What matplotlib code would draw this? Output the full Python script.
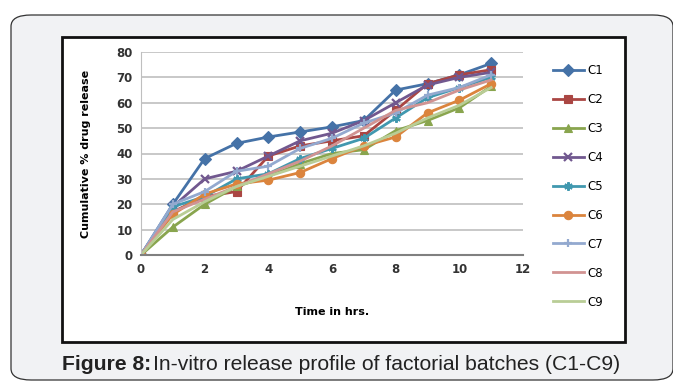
import matplotlib.pyplot as plt
from matplotlib.patches import FancyBboxPatch, Rectangle

hours = [0, 1, 2, 3, 4, 5, 6, 7, 8, 9, 10, 11]
c1 = [0, 20, 38, 44, 46.5, 48.5, 50.5, 53, 65, 67.5, 71, 75.5]
c2 = [0, 17, 23, 25, 39, 43, 45, 47, 57, 67.5, 71, 73]
c3 = [0, 11, 20, 27, 31, 36, 40, 41.5, 49, 53, 58, 66.5]
c4 = [0, 19, 30, 33, 39, 45, 48, 53, 60, 67, 70, 72]
c5 = [0, 19, 23, 30, 32, 38, 42, 46, 54, 62, 66, 70]
c6 = [0, 16, 24, 28, 29.5, 32.5, 38, 43, 46.5, 56, 61, 67.5]
c7 = [0, 20, 25, 33, 35, 42, 46, 52, 56, 63, 66, 71]
c8 = [0, 17, 22, 27, 32, 37, 43, 50, 57, 60, 65, 69]
c9 = [0, 14, 21, 27, 31, 35, 39, 43, 48, 54, 59, 66]

series = [
    ("C1", c1, "#4572A7", "D"),
    ("C2", c2, "#AA4643", "s"),
    ("C3", c3, "#89A54E", "^"),
    ("C4", c4, "#71588F", "x"),
    ("C5", c5, "#4198AF", (6, 2, 0)),
    ("C6", c6, "#DB843D", "o"),
    ("C7", c7, "#93A9CF", "+"),
    ("C8", c8, "#D19392", None),
    ("C9", c9, "#B9CD96", None),
]

W, H = 673, 381
fig = plt.figure(figsize=(W / 100, H / 100), dpi=100)
fig.patch.set_facecolor("white")

# outer rounded panel
panel = FancyBboxPatch((11 / W, 1 - 380 / H), 662 / W, 365 / H,
                       boxstyle="round,pad=0,rounding_size=0.03",
                       transform=fig.transFigure, facecolor="#f1f2f4",
                       edgecolor="#333333", linewidth=0.9, zorder=0)
fig.patches.append(panel)

# chart box
box = Rectangle((62 / W, 1 - 342 / H), 563 / W, 305 / H,
                transform=fig.transFigure, facecolor="white",
                edgecolor="#111111", linewidth=2, zorder=1)
fig.patches.append(box)

ax = fig.add_axes([141 / W, 1 - 255 / H, 382 / W, 203 / H])
ax.set_facecolor("none")
ax.set_zorder(2)

for name, vals, col, mk in series:
    ax.plot(hours, vals, color=col, lw=2, marker=mk, markersize=6,
            markeredgewidth=1.6 if mk in ("x", "+", (6, 2, 0)) else 0.8,
            markeredgecolor=col, label=name)

ax.set_xlim(0, 12)
ax.set_ylim(0, 80)
ax.set_xticks(range(0, 13, 2))
ax.set_yticks(range(0, 81, 10))
ax.yaxis.grid(True, color="#bfbfbf", lw=1.2)
ax.set_axisbelow(True)
for s in ["top", "right"]:
    ax.spines[s].set_visible(False)
ax.spines["left"].set_color("#bfbfbf")
ax.spines["bottom"].set_color("#808080")
ax.spines["bottom"].set_linewidth(1.5)
ax.tick_params(axis="both", length=0, labelsize=8.5, colors="#333333", pad=6)
for lbl in ax.get_xticklabels() + ax.get_yticklabels():
    lbl.set_fontweight("bold")

ax.set_xlabel("Time in hrs.", fontsize=8, fontweight="bold", labelpad=22)
ax.set_ylabel("Cumulative % drug release", fontsize=8, fontweight="bold", labelpad=18)

ax.legend(loc="upper left", bbox_to_anchor=(553 / W, 1 - 64 / H),
          bbox_transform=fig.transFigure, frameon=False, fontsize=8.5,
          handlelength=2.6, handletextpad=0.3, labelspacing=1.35,
          borderpad=0, borderaxespad=0)

# caption: bold prefix followed by normal text, placed after measuring
cap_y = 1 - 364 / H
t1 = fig.text(62 / W, cap_y, "Figure 8:", fontsize=15.2, fontweight="bold",
              family="Liberation Sans", va="center", color="#222222")
fig.canvas.draw()
r = fig.canvas.get_renderer()
x_end = t1.get_window_extent(r).x1
fig.text((x_end + 2) / W, cap_y, "In-vitro release profile of factorial batches (C1-C9)",
         fontsize=15.2, family="Liberation Sans", va="center", color="#222222")

fig.savefig("out.png", dpi=100)
